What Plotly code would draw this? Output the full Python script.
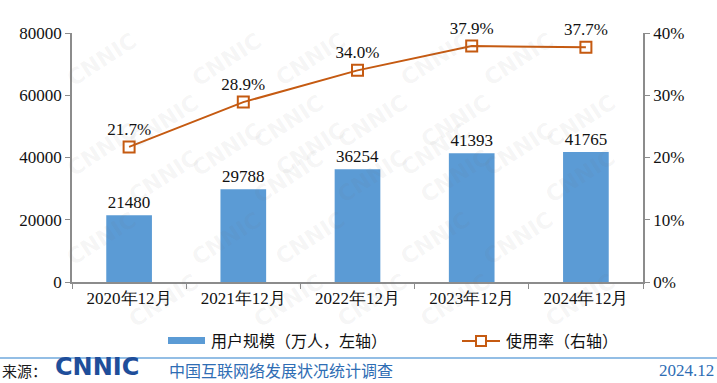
import plotly.graph_objects as go

categories = ["2020年12月", "2021年12月", "2022年12月", "2023年12月", "2024年12月"]
users = [21480, 29788, 36254, 41393, 41765]
rate = [21.7, 28.9, 34.0, 37.9, 37.7]
left_ticks = [0, 20000, 40000, 60000, 80000]
right_ticks = [0, 10, 20, 30, 40]

serif = "Liberation Serif"
cjk = "Noto Sans CJK SC"
bar_color = "#5B9BD5"
line_color = "#C55A11"
axis_color = "#8C8C8C"

W, H = 717, 383
L, R, T, B = 72, 74, 33, 101
pw, ph = W - L - R, H - T - B


def px(x):
    return (x - L) / pw


def py(y):
    return (H - B - y) / ph


fig = go.Figure()
fig.add_trace(go.Bar(
    x=categories, y=users, name="用户规模（万人，左轴）",
    marker=dict(color=bar_color, line=dict(width=0)),
    text=[str(v) for v in users], textposition="outside",
    textfont=dict(family=serif, size=17, color="#111"),
    cliponaxis=False, yaxis="y", showlegend=False,
))
fig.add_trace(go.Scatter(
    x=categories, y=rate, name="使用率（右轴）", mode="lines+markers+text",
    line=dict(color=line_color, width=2),
    marker=dict(symbol="square-open", size=11, color=line_color, line=dict(width=2, color=line_color)),
    text=[f"{v:.1f}%" for v in rate], textposition="top center",
    textfont=dict(family=serif, size=17, color="#111"),
    cliponaxis=False, yaxis="y2", showlegend=False,
))

# watermark (faint, repeated)
for row in range(6):
    for col in range(6):
        cx = 60 + col * 125 + (row % 2) * 62
        cy = 25 + row * 62
        if cx > W - 45 or cy > H - 30:
            continue
        fig.add_annotation(
            xref="paper", yref="paper", x=px(cx), y=py(cy),
            text="<b>CNNIC</b>", showarrow=False, textangle=-33,
            font=dict(family="DejaVu Sans", size=22, color="rgba(120,120,120,0.07)"),
        )

# custom legend
fig.add_shape(type="rect", xref="paper", yref="paper",
              x0=px(168), x1=px(205), y0=py(337), y1=py(344),
              fillcolor=bar_color, line=dict(width=0))
fig.add_annotation(xref="paper", yref="paper", x=px(209), y=py(340), xanchor="left", yanchor="middle",
                   text="用户规模（万人，左轴）", showarrow=False,
                   font=dict(family=cjk, size=16, color="#111"))
fig.add_shape(type="line", xref="paper", yref="paper",
              x0=px(462), x1=px(500), y0=py(341), y1=py(341),
              line=dict(color=line_color, width=2))
fig.add_shape(type="rect", xref="paper", yref="paper",
              x0=px(476), x1=px(486), y0=py(336), y1=py(346),
              fillcolor="white", line=dict(color=line_color, width=2))
fig.add_annotation(xref="paper", yref="paper", x=px(504), y=py(340), xanchor="left", yanchor="middle",
                   text="使用率（右轴）", showarrow=False,
                   font=dict(family=cjk, size=16, color="#111"))

# footer
fy = 370
fig.add_shape(type="line", xref="paper", yref="paper", x0=px(0), x1=px(W),
              y0=py(358), y1=py(358), line=dict(color="#6FA8DC", width=1.5))
fig.add_annotation(xref="paper", yref="paper", x=px(0), y=py(fy), xanchor="left", yanchor="middle",
                   text="来源：", showarrow=False,
                   font=dict(family=cjk, size=15, color="#1a1a1a"))
fig.add_annotation(xref="paper", yref="paper", x=px(53), y=py(367), xanchor="left", yanchor="middle",
                   text="<b>CNNIC</b>", showarrow=False,
                   font=dict(family="DejaVu Sans", size=24, color="#1F4E9A"))
fig.add_annotation(xref="paper", yref="paper", x=px(167), y=py(fy), xanchor="left", yanchor="middle",
                   text="中国互联网络发展状况统计调查", showarrow=False,
                   font=dict(family=cjk, size=16, color="#2E6DB4"))
fig.add_annotation(xref="paper", yref="paper", x=px(W - 1), y=py(fy), xanchor="right", yanchor="middle",
                   text="2024.12", showarrow=False,
                   font=dict(family=serif, size=17, color="#2E6DB4"))

fig.update_layout(
    width=W, height=H,
    margin=dict(l=L, r=R, t=T, b=B),
    paper_bgcolor="white", plot_bgcolor="white",
    bargap=0.6,
    showlegend=False,
    xaxis=dict(type="category", showline=True, linecolor=axis_color, linewidth=1.5,
               ticks="outside", tickson="boundaries", ticklen=5, tickcolor=axis_color,
               tickfont=dict(family=serif, size=17, color="#111"), showgrid=False),
    yaxis=dict(range=[0, 80000], tickvals=left_ticks, ticktext=[str(v) for v in left_ticks],
               showline=True, linecolor=axis_color, linewidth=1.5, ticks="outside", ticklen=5,
               tickcolor=axis_color, showgrid=False, zeroline=False,
               tickfont=dict(family=serif, size=17, color="#111")),
    yaxis2=dict(range=[0, 40], overlaying="y", side="right", tickvals=right_ticks,
                ticktext=[f"{v}%" for v in right_ticks],
                showline=True, linecolor=axis_color, linewidth=1.5, ticks="outside", ticklen=5,
                tickcolor=axis_color, showgrid=False, zeroline=False,
                tickfont=dict(family=serif, size=17, color="#111")),
)

fig.write_html("out.html", config={"displayModeBar": False},
               post_script="document.body.style.margin='0';document.body.style.overflow='hidden';")
